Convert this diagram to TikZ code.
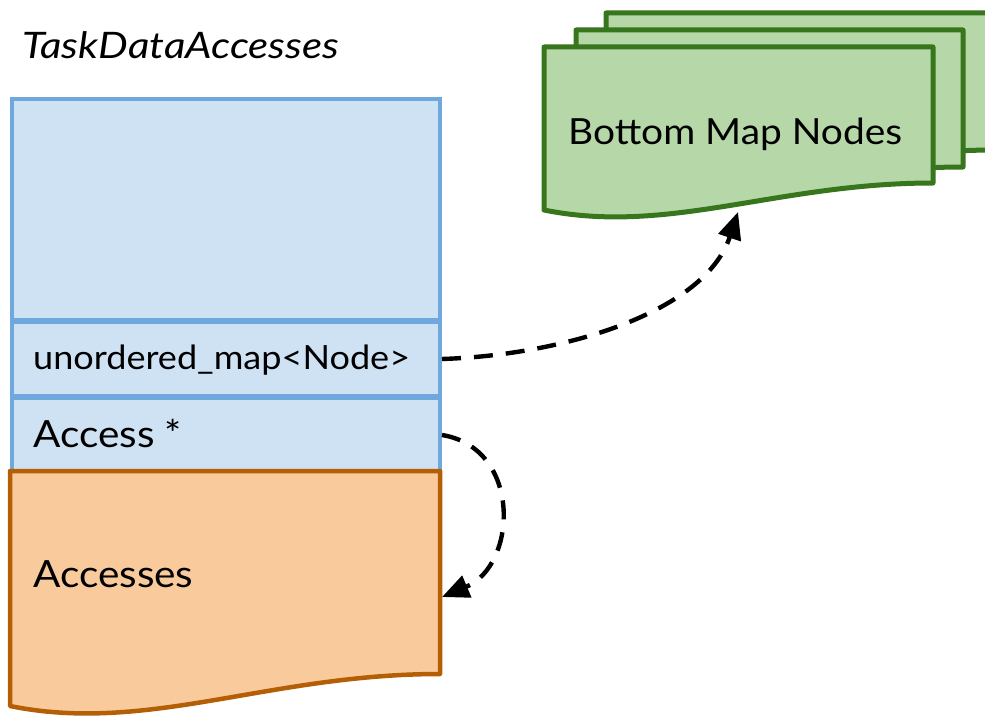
\documentclass[tikz,border=0pt]{standalone}
\usepackage{fontspec}
\setmainfont{Lato}[FakeStretch=1.08]
\newfontfamily\titlefont{Lato}[FakeStretch=1.15]
\usetikzlibrary{arrows.meta}

\definecolor{blueFill}{HTML}{CFE2F3}
\definecolor{blueLine}{HTML}{6FA8DC}
\definecolor{orangeFill}{HTML}{F9CB9C}
\definecolor{orangeLine}{HTML}{B45F06}
\definecolor{greenFill}{HTML}{B6D7A8}
\definecolor{greenLine}{HTML}{38761D}

% document shape: #1 style, left x #2, top y #3, right x #4, right bottom y #5, left bottom y #6
\newcommand{\docshape}[6]{%
  \draw[#1] (#2,#3) -- (#4,#3) -- (#4,#5)
    .. controls ({#4-0.4*(#4-#2)},#5) and ({#2+0.32*(#4-#2)},{#6+0.065*(#4-#2)}) .. (#2,#6) -- cycle;}

\tikzset{
  slot/.style={draw=blueLine, fill=blueFill, line width=4pt, anchor=north west,
    inner sep=0pt, minimum width=428pt},
  greendoc/.style={draw=greenLine, fill=greenFill, line width=5pt, line join=round},
  orangedoc/.style={draw=orangeLine, fill=orangeFill, line width=4.5pt, line join=round},
  lbl/.style={anchor=base west, inner sep=0pt, font=\fontsize{37.5}{42}\selectfont},
  ptr/.style={line width=4.4pt, dash pattern=on 19pt off 13pt,
    -{Triangle[length=27pt,width=23pt]}},
}

\begin{document}
\begin{tikzpicture}[x=1pt,y=-1pt]
\useasboundingbox (0,0) rectangle (985,717);

% stack of map nodes
\docshape{greendoc}{606}{13}{995}{150}{177}
\docshape{greendoc}{576}{30}{963}{167}{194}
\docshape{greendoc}{544}{47}{933}{183}{210}
\coordinate (mapbottom) at (738,212);
\node[lbl, font=\fontsize{36}{42}\selectfont] (maplabel) at (568,144) {Bottom Map Nodes};

% task data accesses structure
\node[lbl, font=\titlefont\itshape\fontsize{36.5}{42}\selectfont] (title) at (22,59) {TaskDataAccesses};
\node[slot, minimum height=221pt] (head) at (10,97) {};
\node[slot, minimum height=74pt] (umap) at (10,320) {};
\node[slot, minimum height=74pt] (acc) at (10,396) {};
\node[lbl, font=\fontsize{33.4}{38}\selectfont] (umaplabel) at (33,369) {unordered\_map<Node>};
\node[lbl] (acclabel) at (33,447) {Access *};

\docshape{orangedoc}{10}{471}{440}{674}{706}
\coordinate (accside) at (442,597);
\node[lbl] (accesses) at (33,587) {Accesses};

% pointers
\draw[ptr] (umap.east) .. controls (565,355) and (705,312) .. (mapbottom);
\draw[ptr] (acc.east) .. controls (522,448) and (518,565) .. (accside);
\end{tikzpicture}
\end{document}
